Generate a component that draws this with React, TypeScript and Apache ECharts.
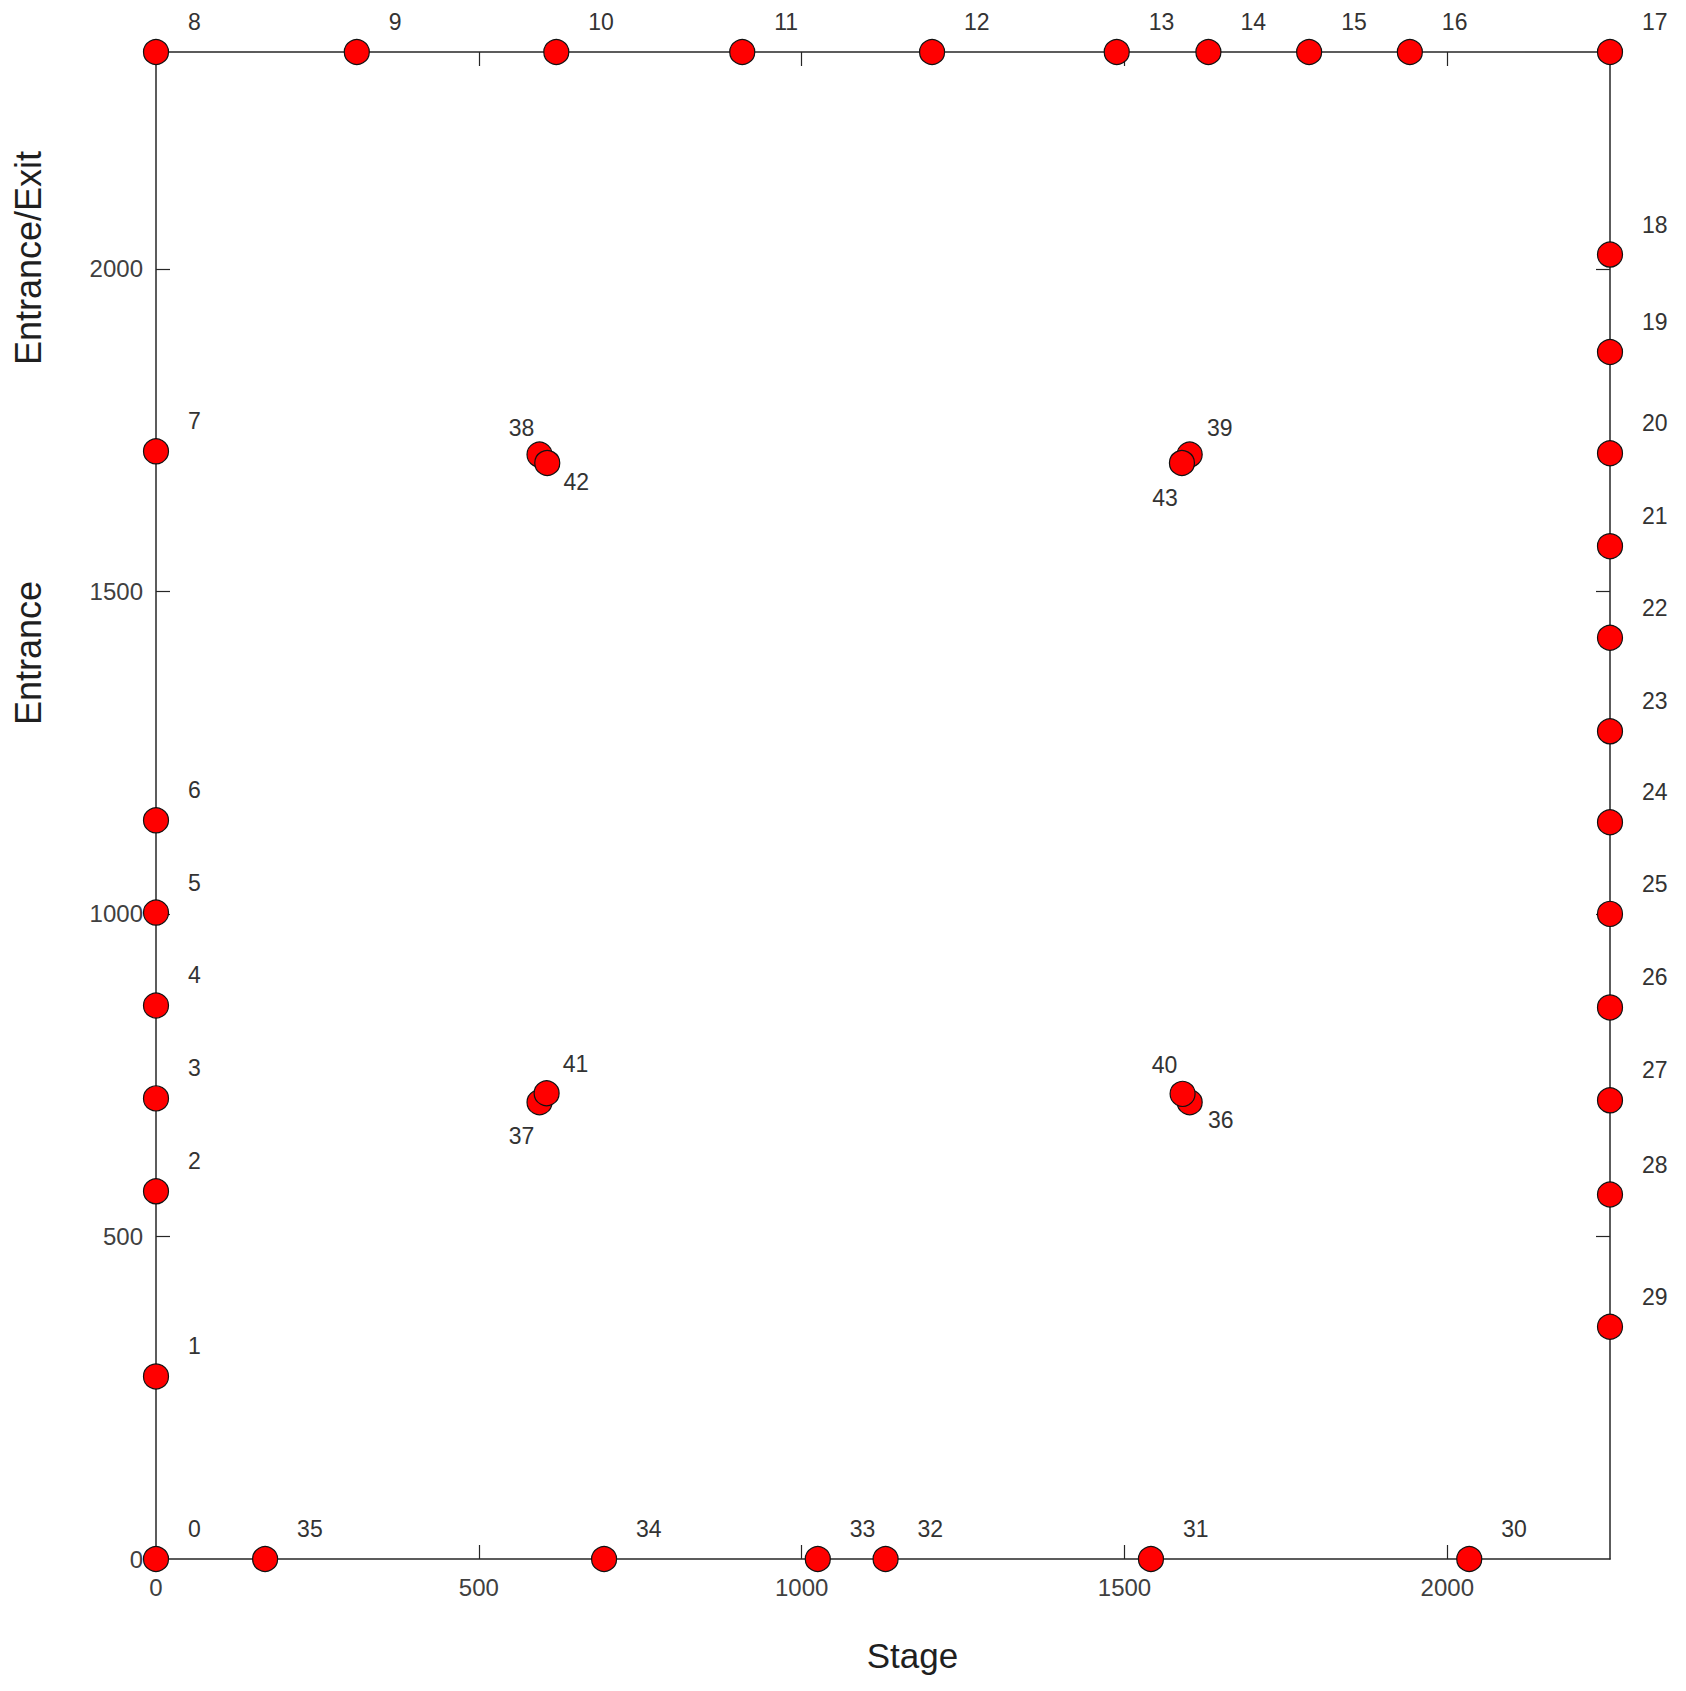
import React, { useEffect, useRef } from "react";
import * as echarts from "echarts";

// ---- data ----
const pointIds = [
  0, 1, 2, 3, 4, 5, 6, 7, 8, 9, 10, 11, 12, 13, 14, 15, 16, 17, 18, 19, 20, 21,
  22, 23, 24, 25, 26, 27, 28, 29, 30, 31, 32, 33, 34, 35, 36, 37, 38, 39, 40, 41,
  42, 43,
];
const xValues = [
  0, 0, 0, 0, 0, 0, 0, 0, 0, 311, 620, 908, 1202, 1488, 1630, 1786, 1942, 2252,
  2252, 2252, 2252, 2252, 2252, 2252, 2252, 2252, 2252, 2252, 2252, 2252, 2034,
  1541, 1130, 1025, 694, 169, 1601, 594, 594, 1601, 1590, 605, 606, 1589,
];
const yValues = [
  0, 283, 570, 714, 858, 1002, 1145, 1717, 2336, 2336, 2336, 2336, 2336, 2336,
  2336, 2336, 2336, 2336, 2022, 1871, 1714, 1570, 1428, 1283, 1142, 1000, 855,
  711, 565, 360, 0, 0, 0, 0, 0, 0, 708, 708, 1712, 1712, 721, 722, 1699, 1699,
];
const xTickValues = [0, 500, 1000, 1500, 2000];
const yTickValues = [0, 500, 1000, 1500, 2000];
const xMax = 2252;
const yMax = 2336;
const xAxisTitle = "Stage";
const yAxisTitleTop = "Entrance/Exit";
const yAxisTitleMid = "Entrance";

// ---- label styling (offsets in pixels, centre-aligned) ----
const innerLabelOffsets: Record<number, [number, number]> = {
  36: [31, 18],
  37: [-18, 34],
  38: [-18, -27],
  39: [30, -27],
  40: [-18, -29],
  41: [29, -29],
  42: [29, 19],
  43: [-17, 35],
};

const TEXT_COLOR = "#333333";
const TICK_COLOR = "#404040";
const AXIS_COLOR = "#262626";
const FONT = "Liberation Sans, Arial, Helvetica, sans-serif";

export default function App() {
  const ref = useRef<HTMLDivElement>(null);

  useEffect(() => {
    if (!ref.current) return;
    const chart = echarts.init(ref.current, undefined, { renderer: "svg" });

    const data = pointIds.map((id, i) => {
      const inner = innerLabelOffsets[id];
      return {
        value: [xValues[i], yValues[i]],
        label: inner
          ? { offset: inner, align: "center" }
          : { offset: [32, -30], align: "left" },
        name: String(id),
      };
    });

    const tickCommon = {
      show: true,
      inside: true,
      length: 14,
      lineStyle: { color: AXIS_COLOR, width: 1.2 },
    };
    const lineCommon = {
      show: true,
      onZero: false,
      lineStyle: { color: AXIS_COLOR, width: 1.5 },
    };
    const innerTicksX = xTickValues.filter((v) => v > 0);
    const innerTicksY = yTickValues.filter((v) => v > 0);
    const plain = (v: number) => String(v);

    chart.setOption({
      animation: false,
      backgroundColor: "#ffffff",
      grid: { left: 148, right: 68, top: 44, bottom: 124, containLabel: false },
      xAxis: [
        {
          type: "value",
          position: "bottom",
          min: 0,
          max: xMax,
          interval: 500,
          axisLine: lineCommon,
          axisTick: { ...tickCommon, customValues: innerTicksX },
          axisLabel: {
            show: true,
            customValues: xTickValues,
            formatter: plain,
            margin: 16,
            fontSize: 24,
            color: TICK_COLOR,
            fontFamily: FONT,
          },
          splitLine: { show: false },
        },
        {
          type: "value",
          position: "top",
          min: 0,
          max: xMax,
          interval: 500,
          axisLine: lineCommon,
          axisTick: { ...tickCommon, customValues: innerTicksX },
          axisLabel: { show: false },
          splitLine: { show: false },
        },
      ],
      yAxis: [
        {
          type: "value",
          position: "left",
          min: 0,
          max: yMax,
          interval: 500,
          axisLine: lineCommon,
          axisTick: { ...tickCommon, customValues: innerTicksY },
          axisLabel: {
            show: true,
            customValues: yTickValues,
            formatter: plain,
            margin: 13,
            fontSize: 24,
            color: TICK_COLOR,
            fontFamily: FONT,
          },
          splitLine: { show: false },
        },
        {
          type: "value",
          position: "right",
          min: 0,
          max: yMax,
          interval: 500,
          axisLine: lineCommon,
          axisTick: { ...tickCommon, customValues: innerTicksY },
          axisLabel: { show: false },
          splitLine: { show: false },
        },
      ],
      graphic: [
        {
          type: "text",
          x: 904.5,
          y: 1647,
          style: {
            text: xAxisTitle,
            fontSize: 35,
            fontFamily: FONT,
            fill: "#1f1f1f",
            textAlign: "center",
            textVerticalAlign: "middle",
          },
        },
        {
          type: "text",
          x: 20,
          y: 250,
          rotation: Math.PI / 2,
          style: {
            text: yAxisTitleTop,
            fontSize: 36,
            fontFamily: FONT,
            fill: "#1f1f1f",
            textAlign: "center",
            textVerticalAlign: "middle",
          },
        },
        {
          type: "text",
          x: 20,
          y: 645,
          rotation: Math.PI / 2,
          style: {
            text: yAxisTitleMid,
            fontSize: 36,
            fontFamily: FONT,
            fill: "#1f1f1f",
            textAlign: "center",
            textVerticalAlign: "middle",
          },
        },
      ],
      series: [
        {
          type: "scatter",
          xAxisIndex: 0,
          yAxisIndex: 0,
          symbol: "circle",
          symbolSize: 25,
          itemStyle: {
            color: "#ff0000",
            borderColor: "#111111",
            borderWidth: 1.2,
            opacity: 1,
          },
          label: {
            show: true,
            position: "inside",
            formatter: (p: any) => p.name,
            fontSize: 23,
            fontFamily: FONT,
            color: TEXT_COLOR,
            verticalAlign: "middle",
          },
          emphasis: { disabled: true },
          clip: false,
          data,
        },
      ],
    });

    return () => chart.dispose();
  }, []);

  return <div ref={ref} style={{ width: 1670, height: 1675 }} />;
}
